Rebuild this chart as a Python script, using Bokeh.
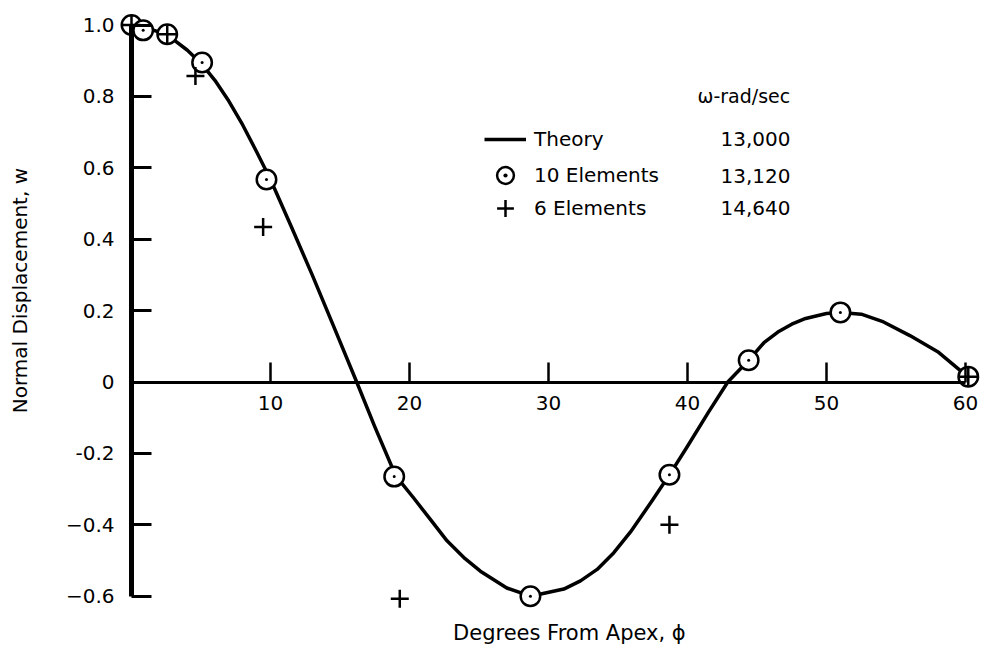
import math
from bokeh.plotting import figure
from bokeh.models import (Range1d, LinearAxis, FixedTicker, Label, Legend,
                          LegendItem)
from bokeh.embed import file_html
from bokeh.resources import INLINE

# ---------------- data ----------------
theory_x = [0.0, 1.0, 2.0, 3.0, 4.0, 5.0, 6.0, 7.0, 8.0, 9.0, 10.0, 11.5,
            13.0, 14.5, 16.2, 17.5, 19.0, 20.3, 21.5, 22.7, 24.0, 25.1,
            27.0, 28.7, 31.1, 32.3, 33.5, 34.7, 35.9, 37.5, 38.7, 40.0,
            41.5, 42.9, 44.4, 45.5, 46.5, 47.5, 48.5, 50.0, 51.0, 52.5,
            54.0, 56.0, 58.0, 60.0]
theory_y = [1.0, 0.993, 0.98, 0.96, 0.93, 0.893, 0.845, 0.787, 0.72, 0.645,
            0.567, 0.435, 0.30, 0.16, 0.0, -0.125, -0.262, -0.325, -0.385,
            -0.445, -0.495, -0.53, -0.577, -0.60, -0.58, -0.557, -0.525,
            -0.478, -0.42, -0.33, -0.26, -0.18, -0.085, 0.0, 0.061, 0.11,
            0.14, 0.162, 0.178, 0.192, 0.195, 0.19, 0.17, 0.13, 0.085, 0.02]

el10_x = [0.0, 0.84, 2.57, 5.08, 9.71, 18.9, 28.7, 38.7, 44.4, 51.0, 60.2]
el10_y = [1.0, 0.985, 0.974, 0.895, 0.567, -0.265, -0.60, -0.26, 0.061,
          0.195, 0.015]

el6_x = [0.0, 2.57, 4.6, 9.47, 19.3, 38.7, 60.2]
el6_y = [1.0, 0.974, 0.857, 0.434, -0.607, -0.40, 0.015]

x_ticks = [10, 20, 30, 40, 50, 60]
y_ticks = [-0.6, -0.4, -0.2, 0, 0.2, 0.4, 0.6, 0.8, 1.0]
y_tick_labels = ["\u22120.6", "\u22120.4", "-0.2", "0", "0.2", "0.4", "0.6",
                 "0.8", "1.0"]

legend_labels = ["Theory", "10 Elements", "6 Elements"]
omega_header = "\u03c9-rad/sec"
omega_values = ["13,000", "13,120", "14,640"]
omega_rows_y = [0.6793, 0.5784, 0.4860]

x_title = "Degrees From Apex, \u03d5"
y_title = "Normal Displacement, w"

FONT = "DejaVu Sans"

# ---------------- figure (frame fills the whole canvas) ----------------
p = figure(width=984, height=653, output_backend="svg", toolbar_location=None,
           x_range=Range1d(-9.4245, 61.3669), y_range=Range1d(-0.7605, 1.06863),
           x_axis_type=None, y_axis_type=None,
           min_border_left=0, min_border_right=0,
           min_border_top=0, min_border_bottom=0)
p.outline_line_color = None
p.background_fill_color = "white"
p.border_fill_color = "white"

yaxis = LinearAxis(fixed_location=0, ticker=FixedTicker(ticks=y_ticks),
                   bounds=(-0.6, 1.0),
                   major_label_overrides={t: l for t, l in zip(y_ticks, y_tick_labels)},
                   major_tick_in=20, major_tick_out=0,
                   minor_tick_in=0, minor_tick_out=0,
                   axis_line_width=5, axis_line_color="black",
                   major_tick_line_width=3, major_tick_line_color="black",
                   major_label_text_font=FONT,
                   major_label_text_font_size="20px",
                   major_label_text_color="black",
                   major_label_standoff=17)
p.add_layout(yaxis, "left")

xaxis = LinearAxis(fixed_location=0, ticker=FixedTicker(ticks=x_ticks),
                   bounds=(0, 60),
                   major_tick_in=20, major_tick_out=0,
                   minor_tick_in=0, minor_tick_out=0,
                   axis_line_width=3, axis_line_color="black",
                   major_tick_line_width=2.5, major_tick_line_color="black",
                   major_label_text_font=FONT,
                   major_label_text_font_size="20px",
                   major_label_text_color="black",
                   major_label_standoff=14)
p.add_layout(xaxis, "below")

r_line = p.line(theory_x, theory_y, line_width=3.5, line_color="black",
                line_join="round")
r_circ = p.scatter(el10_x, el10_y, marker="circle", size=19.5,
                   fill_color="white", line_color="black", line_width=2.5)
r_dot = p.scatter(el10_x, el10_y, marker="dot", size=12, line_color="black",
                  fill_color="black")
r_cross = p.scatter(el6_x, el6_y, marker="cross", size=18, line_color="black",
                    line_width=2.5)

legend_rows = [[r_line], [r_circ, r_dot], [r_cross]]
legend_locs = [(484, 493), (484, 457), (484, 424)]
for lab, rends, loc in zip(legend_labels, legend_rows, legend_locs):
    lg = Legend(items=[LegendItem(label=lab, renderers=rends)],
                location=loc, border_line_color=None,
                background_fill_alpha=0, label_text_font=FONT,
                label_text_font_size="20px", label_text_color="black",
                glyph_width=42, glyph_height=42, spacing=0, padding=0,
                margin=0, label_standoff=8)
    p.add_layout(lg)

p.add_layout(Label(x=40.72, y=0.8025, text=omega_header, text_font=FONT,
                   text_font_size="19px", text_baseline="middle",
                   text_align="left", text_color="black"))
for txt, yy in zip(omega_values, omega_rows_y):
    p.add_layout(Label(x=42.37, y=yy, text=txt, text_font=FONT,
                       text_font_size="20px", text_baseline="middle",
                       text_align="left", text_color="black"))

p.add_layout(Label(x=31.5, y=-0.7017, text=x_title, text_font=FONT,
                   text_font_size="21px", text_baseline="middle",
                   text_align="center", text_color="black"))
p.add_layout(Label(x=-7.99, y=0.256, text=y_title, text_font=FONT,
                   text_font_size="20px", text_baseline="middle",
                   text_align="center", angle=math.pi / 2,
                   text_color="black"))

open("out.html", "w").write(file_html(p, INLINE))
